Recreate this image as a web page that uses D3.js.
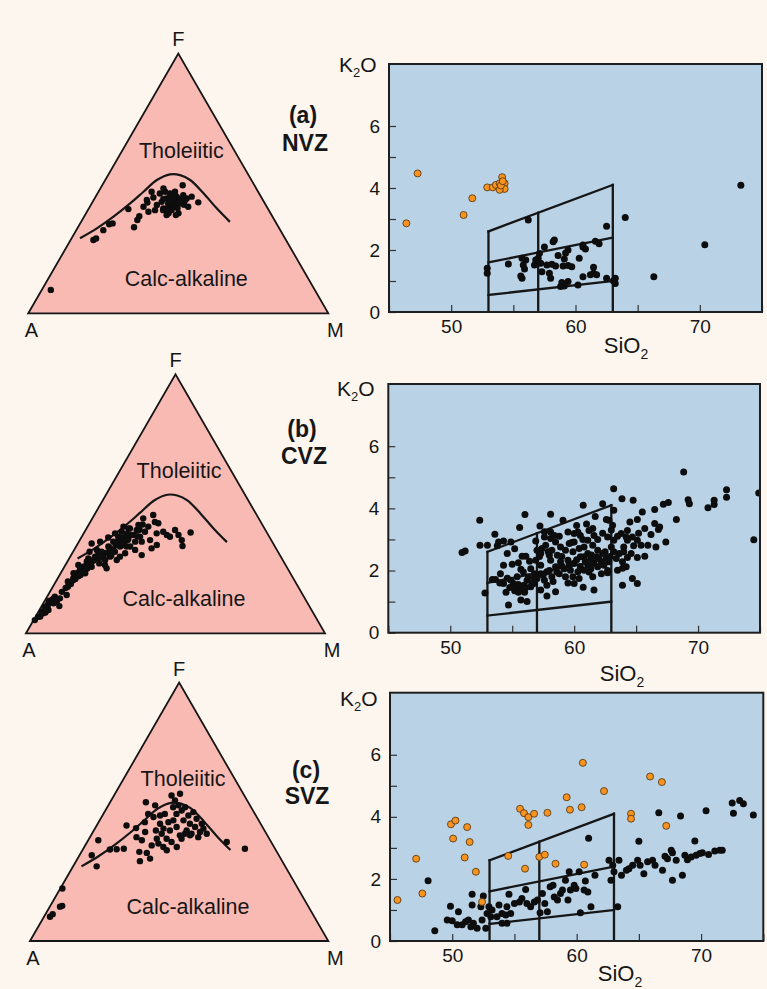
<!DOCTYPE html>
<html>
<head>
<meta charset="utf-8">
<script src="https://cdn.jsdelivr.net/npm/d3@7"></script>
<style>
  html, body { margin: 0; padding: 0; background: #fdf6ee; }
  svg { display: block; font-family: "Liberation Sans", Arial, Helvetica, sans-serif; }
</style>
</head>
<body>
<svg id="fig" width="767" height="989"></svg>
<script>
// ---------- Data ----------
// AFM ternary compositions, [A, F, M] in percent
const boundaryAFM = [
  [68.3,28.9,2.8],[60.8,32.7,6.5],[53.0,37.2,9.8],[44.9,42.3,12.8],[38.2,46.8,15.0],
  [31.5,51.3,17.2],[26.0,53.5,20.5],[22.8,53.2,24.0],[20.4,51.3,28.3],[18.5,46.2,35.3],
  [17.0,40.4,42.6],[15.2,35.2,49.6]
];

const nvzAFM = [
  [64.2,28.2,7.6],[63.0,28.8,8.2],[59.0,32.0,9.0],[55.9,34.3,9.8],[54.6,34.6,10.8],[46.6,40.1,13.3],
  [48.2,33.1,18.7],[45.7,35.9,18.4],[44.3,37.4,18.3],[41.1,41.0,17.9],[39.0,42.6,18.4],[40.4,39.1,20.5],
  [35.5,46.8,17.7],[36.0,44.6,19.4],[37.9,39.7,22.4],[33.1,46.1,20.8],[34.1,42.9,23.0],[34.8,40.4,24.8],
  [31.0,46.8,22.2],[31.8,44.2,24.0],[32.2,42.3,25.5],[29.7,46.1,24.2],[32.4,39.7,27.9],[29.8,43.6,26.6],
  [30.6,41.0,28.4],[28.1,44.9,27.0],[30.7,38.5,30.8],[28.3,42.3,29.4],[23.9,49.3,26.8],[25.6,45.5,28.9],
  [26.7,42.9,30.4],[25.1,44.2,30.7],[26.2,41.0,32.8],[23.1,44.9,32.0],[22.0,42.7,35.3],[35.0,37.8,27.2],
  [35.2,39.7,25.1],[36.3,41.7,22.0],[27.7,46.8,25.5],[30.9,48.1,21.0],[34.0,38.5,27.5],[31.9,37.8,30.3],
  [38.7,43.6,17.7],[88.0,9.0,3.0],[29.5,43.0,27.5],[32.5,41.5,26.0],[27.5,44.0,28.5],[30.0,40.5,29.5],
  [29.0,45.0,26.0],[27.2,41.8,31.0],[33.0,44.0,23.0],[31.0,42.0,27.0],[28.5,42.5,29.0],[26.0,43.5,30.5],
  [30.5,44.5,25.0],[33.5,40.0,26.5]
];

const cvzAFM = [
  [94.5,5.1,0.4],[92.7,6.4,0.9],[90.5,8.4,1.1],[88.5,10.3,1.2],[86.7,11.6,1.7],[84.9,12.9,2.2],
  [83.3,14.1,2.6],[85.0,11.6,3.4],[83.6,10.5,5.9],[81.9,13.5,4.6],[79.0,14.8,6.2],[88.0,9.0,3.0],
  [90.4,7.7,1.9],[83.6,12.2,4.2],[73.6,21.2,5.2],[71.4,23.2,5.4],[69.8,24.4,5.8],[68.0,25.7,6.3],
  [65.8,27.7,6.5],[68.6,23.2,8.2],[65.2,25.7,9.1],[60.7,34.7,4.6],[60.2,32.2,7.6],[61.4,28.9,9.7],
  [58.7,30.9,10.4],[60.4,26.4,13.2],[60.5,25.1,14.4],[55.7,33.5,10.8],[57.1,29.6,13.3],[53.1,35.4,11.5],
  [54.5,31.5,14.0],[55.5,28.3,16.2],[50.5,37.3,12.2],[51.8,33.5,14.7],[48.4,39.2,12.4],[49.7,35.4,14.9],
  [51.4,30.9,17.7],[47.7,37.3,15.0],[45.5,40.5,14.0],[48.4,33.5,18.1],[45.1,38.0,16.9],[45.8,35.4,18.8],
  [43.0,39.9,17.1],[41.5,41.8,16.7],[43.2,37.3,19.5],[46.2,30.2,23.6],[38.6,44.4,17.0],[40.6,39.2,20.2],
  [38.5,41.2,20.3],[40.5,36.0,23.5],[34.6,45.7,19.7],[35.4,43.0,21.6],[37.0,38.6,24.4],[34.5,42.5,23.0],
  [39.2,34.1,26.7],[34.5,39.2,26.3],[33.9,38.0,28.1],[33.2,37.3,29.5],[30.2,39.9,29.9],[30.0,38.0,32.0],
  [29.9,36.0,34.1],[30.8,33.7,35.5],[25.5,38.9,35.6],[57.5,35.4,7.1],[62.1,29.6,8.3],[64.7,28.9,6.4],
  [72.5,23.2,4.3],[69.3,26.4,4.3],[45.0,40.5,14.5],[46.8,41.2,12.0],[43.6,35.4,21.0],[47.4,32.2,20.4],
  [54.7,32.2,13.1],[59.4,28.3,12.3],[50.9,38.6,10.5],[53.8,29.6,16.6],[49.6,33.5,16.9],[41.6,32.8,25.6],
  [65.0,27.0,8.0],[61.0,30.0,9.0],[57.0,31.0,12.0],[53.0,34.0,13.0],[47.5,36.5,16.0],[55.5,33.0,11.5],
  [59.5,29.0,11.5],[51.0,36.0,13.0],[71.5,22.0,6.5],[68.5,24.0,7.5],[76.0,20.0,4.0],[75.5,19.0,5.5],
  [63.0,31.5,5.5],[54.0,37.0,9.0],
  [80.0,16.0,4.0],[78.0,17.5,4.5],[77.0,18.0,5.0],[74.0,20.5,5.5],[73.0,21.0,6.0],[70.5,22.5,7.0],
  [67.0,25.0,8.0],[66.5,26.5,7.0],[63.5,28.0,8.5],[62.0,27.0,11.0],[58.0,31.0,11.0],[56.0,32.0,12.0],
  [52.0,35.0,13.0],[50.0,34.0,16.0],[48.0,36.0,16.0],[46.0,38.0,16.0],[44.0,37.5,18.5],[42.0,40.0,18.0],
  [40.0,42.0,18.0],[47.0,38.5,14.5],[49.0,37.0,14.0],[51.5,34.5,14.0],[56.5,30.0,13.5],[59.0,31.5,9.5],
  [63.0,28.5,8.5],[87.5,10.5,2.0],[86.0,12.5,1.5],[89.5,8.0,2.5],[92.0,6.5,1.5],[84.0,13.5,2.5]
];

const svzAFM = [
  [88.6,9.4,2.0],[87.2,10.4,2.4],[83.3,13.3,3.4],[82.4,13.6,4.0],[79.0,20.3,0.7],[63.2,28.9,7.9],
  [62.7,33.2,4.1],[57.6,39.0,3.4],[55.5,35.4,9.1],[53.2,35.5,11.3],[50.7,35.7,13.6],[45.3,44.7,10.0],
  [42.6,43.7,13.7],[46.1,34.5,19.4],[47.7,30.9,21.4],[44.2,40.2,15.6],[43.0,39.0,18.0],[34.3,53.7,12.0],
  [38.5,46.0,15.5],[43.8,34.1,22.1],[43.8,31.9,24.3],[40.3,42.2,17.5],[34.6,48.0,17.4],[36.4,42.8,20.8],
  [37.7,39.6,22.7],[38.1,37.7,24.2],[33.7,45.4,20.9],[35.1,41.5,23.4],[33.5,43.5,23.0],[30.2,49.2,20.6],
  [34.4,39.6,26.0],[36.6,35.1,28.3],[30.6,46.0,23.4],[31.7,42.8,25.5],[24.4,56.3,19.3],[26.1,51.8,22.1],
  [28.6,46.7,24.7],[24.2,54.4,21.4],[26.3,49.2,24.5],[28.8,44.1,27.1],[32.6,36.4,31.0],[24.0,52.5,23.5],
  [21.2,57.0,21.8],[29.3,40.9,29.8],[23.9,50.5,25.6],[25.2,46.7,28.1],[22.1,51.8,26.1],[26.1,42.8,31.1],
  [22.6,48.6,28.8],[23.7,45.4,30.9],[25.1,41.5,33.4],[20.3,49.9,29.8],[22.6,44.1,33.3],[20.5,47.3,32.2],
  [21.9,42.2,35.9],[19.7,45.4,34.9],[20.1,43.5,36.4],[20.0,41.5,38.5],[14.9,38.3,46.8],[10.1,35.7,54.2],
  [27.3,41.5,31.2],[32.1,48.6,19.3],[35.8,49.2,15.0],[37.1,36.4,26.5],[33.4,38.3,28.3],[40.7,37.0,22.3],
  [29.4,39.6,31.0],[31.8,52.5,15.7],[25.9,40.9,33.2],[23.5,40.2,36.3]
];

// K2O vs SiO2 (wt%), [SiO2, K2O]
const nvzK2O = [
  [56.2,2.97],[64.0,3.05],[62.5,2.77],[58.3,2.32],[58.2,2.27],[57.5,2.1],[59.4,2.0],[60.6,2.1],
  [60.8,2.03],[61.6,2.28],[61.9,2.2],[59.2,1.9],[58.6,1.82],[59.1,1.71],[60.3,1.73],[59.4,1.5],
  [59.0,1.48],[58.1,1.54],[57.7,1.52],[57.2,1.57],[56.9,1.57],[56.7,1.52],[57.0,1.73],[57.1,1.89],
  [56.8,1.68],[56.0,1.68],[55.8,1.52],[55.9,1.39],[55.7,1.73],[55.6,1.16],[55.7,1.09],[54.6,1.55],
  [52.9,1.41],[52.9,1.25],[57.9,1.25],[58.0,1.09],[58.9,0.95],[59.1,0.84],[58.8,0.82],[59.4,0.98],
  [60.2,0.87],[60.6,1.14],[61.2,1.2],[61.45,1.25],[61.45,1.44],[61.7,1.2],[62.5,1.09],[63.05,1.01],
  [63.2,0.92],[63.2,1.09],[60.6,2.16],[59.7,1.46],[57.3,1.3],[58.4,1.48],[73.3,4.09],[70.4,2.17],
  [66.3,1.14]
];
const nvzK2O_B = [
  [46.4,2.86],[47.3,4.47],[51.0,3.13],[51.7,3.67],[52.9,4.02],[53.35,4.02],[53.6,4.1],[53.9,4.15],
  [54.1,4.35],[54.3,4.15],[54.3,3.97],[53.9,3.94],[54.0,4.08],[54.15,4.22]
];

const cvzK2O = [
  [68.84,5.17],[63.19,4.63],[63.86,4.31],[64.76,4.26],[60.73,4.10],[62.3,4.15],[56.03,3.80],[58.1,3.81],
  [52.38,3.62],[59.1,3.62],[61.7,3.74],[55.6,3.38],[57.24,3.43],[53.6,3.17],[54.3,2.95],[53.9,2.92],
  [54.9,2.92],[52.4,2.81],[53.0,2.81],[50.95,2.58],[51.2,2.63],[54.6,2.55],[55.8,2.46],[56.1,2.46],
  [54.3,2.17],[55.7,2.04],[53.4,1.71],[53.65,1.71],[54.3,1.58],[52.8,1.28],[54.7,0.89],[55.7,1.05],
  [56.2,1.0],[55.35,1.42],[55.8,1.42],[55.1,1.58],[56.76,1.58],[57.8,1.18],[58.5,1.32],[60.73,1.46],
  [61.6,1.37],[62.7,1.93],[63.9,2.07],[64.7,1.74],[65.1,1.58],[63.9,1.53],[65.7,2.46],[65.1,2.42],
  [64.3,2.42],[65.5,3.88],[66.5,3.96],[67.2,4.13],[67.6,4.19],[68.25,3.64],[69.2,4.28],[69.3,4.15],
  [70.8,4.02],[71.3,4.26],[71.3,4.12],[72.3,4.6],[72.3,4.36],[74.5,2.99],[74.9,4.49],[67.4,2.92],
  [66.8,3.32],[66.9,3.40],[66.2,3.16],[66.5,3.51],[65.7,3.35],[65.1,3.64],[64.5,3.56],[64.3,3.29],
  [63.8,3.19],[64.2,3.08],[63.2,3.94],[62.8,3.62],[63.1,3.46],[63.2,2.97],[63.0,2.76],[63.2,2.6],
  [63.4,2.39],[64.0,2.76],[64.3,2.97],[64.7,3.08],[65.4,2.81],[65.95,2.81],[66.6,2.76],[65.1,2.97],
  [57.6,3.08],[58.1,3.03],[58.5,2.92],[57.7,2.81],[58.2,2.65],[58.9,2.76],[59.5,3.24],[60.0,3.19],
  [60.3,3.24],[60.5,3.13],[61.2,3.29],[61.5,3.35],[61.6,3.13],[61.1,2.97],[60.0,2.92],[59.6,2.87],
  [59.3,2.65],[59.9,2.6],[60.4,2.71],[60.8,2.76],[61.5,2.81],[61.9,2.65],[61.1,2.55],[60.5,2.44],
  [61.8,2.44],[62.3,2.55],[62.6,2.39],[62.2,2.28],[61.6,2.23],[61.1,2.17],[60.5,2.12],[60.0,2.23],
  [59.5,2.33],[58.9,2.28],[58.5,2.12],[59.2,2.06],[59.7,2.01],[60.3,1.96],[60.8,2.01],[61.35,2.06],
  [61.9,2.12],[62.4,2.17],[62.8,2.28],[58.8,1.9],[59.3,1.8],[59.9,1.8],[60.4,1.74],[58.2,1.8],
  [57.8,1.96],[57.3,1.9],[57.6,1.69],[57.0,1.74],[56.8,1.9],[56.5,2.06],[56.9,2.33],[57.3,2.17],
  [58.1,2.33],[58.65,2.49],[58.0,2.49],[57.3,2.55],[57.0,2.65],[57.4,2.71],[58.1,3.24],[58.4,3.13],
  [56.2,1.69],[56.5,1.48],[55.95,1.53],[55.4,1.8],[54.9,1.69],[54.05,1.9],[57.3,1.37],[57.8,1.53],
  [60.8,2.44],[61.35,2.39],[63.0,3.3],[62.7,3.08],[62.6,3.64],[63.65,2.55],[63.9,2.28],[64.2,2.12],
  [63.5,2.01],[62.2,1.9],[61.5,1.8],[60.0,1.58],[54.8,1.45],[55.2,1.35],[56.0,1.3],[56.6,1.6],
  [55.5,1.55],[54.5,1.3],[56.3,1.8],[55.0,2.2],[53.8,2.8],[55.2,2.7],
  [55.5,1.3],[56.1,1.45],[56.8,1.75],[57.5,1.85],[58.0,2.0],[58.6,1.95],[59.0,2.15],[59.6,2.2],
  [60.2,2.35],[60.9,2.3],[61.4,2.5],[62.0,2.4],[62.5,2.6],[62.9,2.45],[59.0,2.45],[59.8,2.9],
  [60.7,3.0],[61.9,3.0],[62.3,3.2],[58.8,3.1],[57.9,2.6],[56.4,2.3],[55.9,1.95],[54.6,1.75],
  [54.0,1.6],[56.9,2.95],[57.6,3.25],[60.2,3.45],[61.0,3.5],[63.5,3.1],[64.6,2.55],[64.0,2.6],
  [62.7,2.0],[61.2,1.95],[59.5,1.6],[58.3,1.65],[57.2,2.45],[55.5,2.25],[64.8,2.8],[65.2,3.2]
];

const svzK2O = [
  [48.6,0.33],[48.06,1.94],[49.86,1.12],[50.5,0.94],[49.6,0.68],[50.0,0.65],[51.6,1.51],[52.5,1.45],
  [51.6,1.16],[52.3,1.1],[50.4,0.52],[50.8,0.52],[51.07,0.62],[51.3,0.68],[51.7,0.57],[52.0,0.41],
  [51.5,0.46],[52.4,0.68],[52.7,0.41],[52.8,0.89],[52.95,1.1],[53.1,0.78],[53.2,1.0],[53.6,0.78],
  [53.76,1.16],[54.0,0.89],[54.3,0.84],[54.4,1.1],[54.0,0.57],[54.4,0.57],[54.56,1.51],[54.7,0.89],
  [55.0,1.21],[55.4,1.26],[55.6,1.37],[55.9,1.66],[56.0,1.21],[56.3,1.1],[56.6,1.26],[56.85,1.32],
  [57.06,0.91],[57.25,1.53],[57.44,1.21],[57.65,0.94],[57.87,1.75],[58.1,1.8],[58.2,1.42],[58.46,1.32],
  [58.7,1.53],[58.86,1.64],[59.1,1.96],[59.3,1.32],[59.4,2.23],[59.5,1.64],[59.8,1.8],[59.94,1.69],
  [60.2,2.23],[60.3,0.91],[60.6,1.64],[60.7,1.93],[60.9,1.58],[60.96,3.31],[61.15,1.1],[61.47,2.12],
  [62.6,2.6],[62.76,1.96],[62.9,2.44],[63.0,2.23],[63.3,1.1],[63.4,2.6],[63.6,2.12],[64.0,2.28],
  [64.2,2.33],[64.5,2.44],[64.9,2.6],[65.0,3.21],[65.1,2.44],[65.4,2.17],[65.7,2.55],[66.1,2.6],
  [66.3,2.44],[66.6,4.13],[66.9,2.28],[67.1,2.73],[67.3,2.65],[67.6,2.92],[67.7,1.96],[67.7,2.84],
  [68.0,2.6],[68.35,4.03],[68.5,2.12],[68.7,2.76],[68.9,2.62],[69.2,2.71],[69.5,3.22],[69.6,2.76],
  [69.9,2.82],[70.1,2.84],[70.4,4.2],[70.6,2.79],[71.1,2.9],[71.5,2.92],[71.7,2.92],[72.5,4.45],
  [72.6,4.12],[73.1,4.53],[73.4,4.42],[74.2,4.06]
];
const svzK2O_B = [
  [45.6,1.32],[47.1,2.65],[47.6,1.53],[49.9,3.76],[50.26,3.88],[50.07,3.30],[51.2,3.67],[51.0,2.69],
  [51.4,3.19],[51.9,2.23],[52.4,1.26],[54.5,2.74],[55.45,4.26],[55.77,4.12],[56.12,3.99],[56.12,3.74],
  [56.58,4.1],[55.85,2.33],[57.0,2.71],[57.44,2.78],[57.65,4.13],[58.3,2.49],[59.2,4.63],[59.46,4.23],
  [60.4,4.31],[60.5,5.74],[60.6,2.46],[62.2,4.83],[64.37,4.1],[64.37,3.94],[65.9,5.30],[66.85,5.12],
  [67.2,3.71]
];

// K2O series field boundaries, each a segment [[SiO2, K2O], [SiO2, K2O]]
const seriesFields = [
  [[53,0.55],[63,1.0]],
  [[53,1.6],[63,2.4]],
  [[53,2.6],[63,4.1]],
  [[53,0],[53,2.6]],
  [[57,0],[57,3.2]],
  [[63,0],[63,4.1]]
];

const zoneTags = ["(a)", "(b)", "(c)"];
const zoneNames = ["NVZ", "CVZ", "SVZ"];
const k2oTicks = [0,1,2,3,4,5,6];
const sio2Ticks = [45,50,55,60,65,70,75];

// ---------- Layout ----------
const layout = [
  { tri: {ax:28.3, ay:313.3, side:300},  box: {x0:389, y0:64,    x1:762,   y1:312},
    tag: [303,123], name: [305,151], k2o: [339,72],  sio: [626,353] },
  { tri: {ax:26,   ay:633.3, side:299},  box: {x0:388.3, y0:384, x1:760,   y1:632.7},
    tag: [302,437], name: [304,464], k2o: [337,396], sio: [622,681] },
  { tri: {ax:30,   ay:941,   side:298.3},box: {x0:390, y0:692.7, x1:763.3, y1:941},
    tag: [306,778], name: [307,804], k2o: [340,706], sio: [620,981] }
];
const afmSets = [nvzAFM, cvzAFM, svzAFM];
const k2oSets = [nvzK2O, cvzK2O, svzK2O];
const k2oSetsB = [nvzK2O_B, null, svzK2O_B];

const INK = "#161616";
const svg = d3.select("#fig");
svg.append("rect").attr("width", 767).attr("height", 989).attr("fill", "#fdf6ee");

// ---------- AFM ternary ----------
function drawTernary(t, pts) {
  const g = svg.append("g");
  const h = t.side * Math.sqrt(3) / 2;
  const fy = d3.scaleLinear().domain([0, 100]).range([t.ay, t.ay - h]);
  const hx = d3.scaleLinear().domain([0, 100]).range([t.ax, t.ax + t.side]);
  const pos = d => [hx(d[2] + d[1] / 2), fy(d[1])];

  const corners = [[100,0,0],[0,100,0],[0,0,100]].map(pos);
  g.append("path")
    .attr("d", "M" + corners.join("L") + "Z")
    .attr("fill", "#f9bab4").attr("stroke", INK).attr("stroke-width", 1.8)
    .attr("stroke-linejoin", "miter");

  g.append("path")
    .attr("d", d3.line().curve(d3.curveCatmullRom.alpha(0.5))(boundaryAFM.map(pos)))
    .attr("fill", "none").attr("stroke", INK).attr("stroke-width", 2.2);

  g.append("g").selectAll("circle").data(pts).join("circle")
    .attr("cx", d => pos(d)[0]).attr("cy", d => pos(d)[1])
    .attr("r", 3.2).attr("fill", "#0d0d0d");

  const lab = (txt, x, y, size) => g.append("text")
    .attr("x", x).attr("y", y).attr("text-anchor", "middle")
    .attr("font-size", size).attr("fill", INK).text(txt);
  lab("F", corners[1][0], corners[1][1] - 7, 20);
  lab("A", corners[0][0] + 3, corners[0][1] + 24, 20);
  lab("M", corners[2][0] + 7, corners[2][1] + 24, 20);
  lab("Tholeiitic", t.ax + 153, t.ay - 155, 21.5);
  lab("Calc-alkaline", t.ax + 158, t.ay - 27.5, 21.5);
}

// ---------- K2O vs SiO2 ----------
function drawHarker(i, b, ptsA, ptsB) {
  const g = svg.append("g");
  const x = d3.scaleLinear().domain([45, 75]).range([b.x0, b.x1]);
  const y = d3.scaleLinear().domain([0, 8]).range([b.y1, b.y0]);
  const clipId = "clip" + i;
  g.append("clipPath").attr("id", clipId).append("rect")
    .attr("x", b.x0).attr("y", b.y0).attr("width", b.x1 - b.x0).attr("height", b.y1 - b.y0);

  g.append("rect").attr("x", b.x0).attr("y", b.y0)
    .attr("width", b.x1 - b.x0).attr("height", b.y1 - b.y0).attr("fill", "#bad2e6");

  const inner = g.append("g").attr("clip-path", `url(#${clipId})`);
  inner.selectAll("line.field").data(seriesFields).join("line").attr("class", "field")
    .attr("x1", d => x(d[0][0])).attr("y1", d => y(d[0][1]))
    .attr("x2", d => x(d[1][0])).attr("y2", d => y(d[1][1]))
    .attr("stroke", INK).attr("stroke-width", 2.3).attr("stroke-linecap", "square");

  inner.append("g").selectAll("circle").data(ptsA).join("circle")
    .attr("cx", d => x(d[0])).attr("cy", d => y(d[1])).attr("r", 3.5).attr("fill", "#0d0d0d");
  if (ptsB) {
    inner.append("g").selectAll("circle").data(ptsB).join("circle")
      .attr("cx", d => x(d[0])).attr("cy", d => y(d[1])).attr("r", 3.5)
      .attr("fill", "#f7931e").attr("stroke", "#4a3010").attr("stroke-width", 0.8);
  }

  const yAxis = g.append("g").attr("transform", `translate(${b.x0},0)`)
    .call(d3.axisLeft(y).tickValues(k2oTicks).tickSizeInner(-7).tickSizeOuter(0)
      .tickPadding(9).tickFormat(d => d % 2 ? "" : d));
  const xAxis = g.append("g").attr("transform", `translate(0,${b.y1})`)
    .call(d3.axisBottom(x).tickValues(sio2Ticks).tickSizeInner(-7).tickSizeOuter(0)
      .tickPadding(8).tickFormat(d => d % 10 === 0 ? d : ""));
  [yAxis, xAxis].forEach(a => {
    a.select(".domain").remove();
    a.selectAll("line").attr("stroke", "#333").attr("stroke-width", 1.2);
    a.selectAll("text").attr("font-size", 19).attr("fill", INK)
      .attr("font-family", "\"Liberation Sans\", Arial, sans-serif");
  });

  g.append("rect").attr("x", b.x0).attr("y", b.y0)
    .attr("width", b.x1 - b.x0).attr("height", b.y1 - b.y0)
    .attr("fill", "none").attr("stroke", "#1e1e1e").attr("stroke-width", 2);
}

function drawAxisTitles(L) {
  const k = svg.append("text").attr("x", L.k2o[0]).attr("y", L.k2o[1])
    .attr("font-size", 21).attr("fill", INK);
  k.append("tspan").text("K");
  k.append("tspan").attr("font-size", 13).attr("dy", 5).text("2");
  k.append("tspan").attr("dy", -5).text("O");

  const s = svg.append("text").attr("x", L.sio[0]).attr("y", L.sio[1])
    .attr("text-anchor", "middle").attr("font-size", 22).attr("fill", INK);
  s.append("tspan").text("SiO");
  s.append("tspan").attr("font-size", 14).attr("dy", 6).text("2");
}

layout.forEach((L, i) => {
  drawTernary(L.tri, afmSets[i]);
  drawHarker(i, L.box, k2oSets[i], k2oSetsB[i]);
  drawAxisTitles(L);
  svg.append("text").attr("x", L.tag[0]).attr("y", L.tag[1]).attr("text-anchor", "middle")
    .attr("font-size", 23).attr("font-weight", "bold").attr("fill", INK).text(zoneTags[i]);
  svg.append("text").attr("x", L.name[0]).attr("y", L.name[1]).attr("text-anchor", "middle")
    .attr("font-size", 23).attr("font-weight", "bold").attr("fill", INK).text(zoneNames[i]);
});
</script>
</body>
</html>
